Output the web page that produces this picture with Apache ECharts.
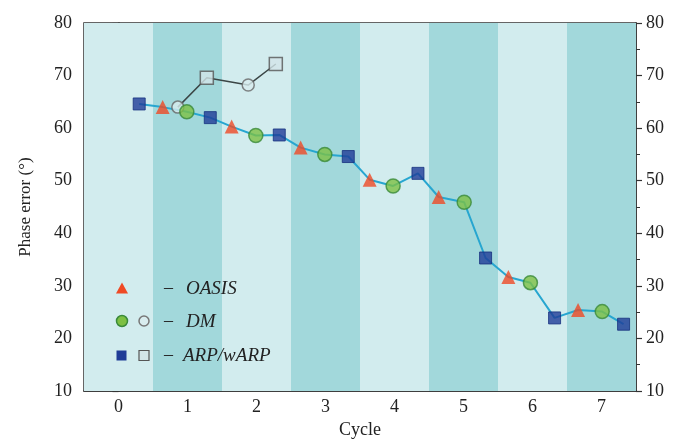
<!DOCTYPE html>
<html>
<head>
<meta charset="utf-8">
<script src="https://cdn.jsdelivr.net/npm/echarts@6/dist/echarts.min.js"></script>
<style>html,body{margin:0;padding:0;background:#fff}#c{width:675px;height:444px}</style>
</head>
<body>
<div id="c"></div>
<script>
// ---- data ----
const cycles = [0, 1, 2, 3, 4, 5, 6, 7];
const yTicks = [10, 20, 30, 40, 50, 60, 70, 80];
const arpX = [0.30, 1.33, 2.33, 3.33, 4.34, 5.32, 6.32, 7.32];
const arpY = [64.6, 62.0, 58.7, 54.6, 51.4, 35.3, 23.9, 22.7];
const oasisX = [0.64, 1.64, 2.64, 3.64, 4.64, 5.65, 6.66];
const oasisY = [64.0, 60.3, 56.3, 50.2, 46.9, 31.7, 25.4];
const dmX = [0.99, 1.99, 2.99, 3.98, 5.01, 5.97, 7.01];
const dmY = [63.1, 58.6, 55.0, 49.0, 45.9, 30.6, 25.1];
const wDmX = [0.86, 1.88];
const wDmY = [64.0, 68.2];
const wArpX = [1.28, 2.28];
const wArpY = [69.6, 72.2];

const pairs = (xs, ys) => xs.map((x, i) => [x, ys[i]]);
const mainLine = [...pairs(arpX, arpY), ...pairs(oasisX, oasisY), ...pairs(dmX, dmY)].sort((a, b) => a[0] - b[0]);
const greyLine = [...pairs(wDmX, wDmY), ...pairs(wArpX, wArpY)].sort((a, b) => a[0] - b[0]);

const lightBand = '#d2ecee', darkBand = '#a2d8db';
const bands = cycles.map(c => [{ xAxis: c - 0.5, itemStyle: { color: c % 2 ? darkBand : lightBand } }, { xAxis: c + 0.5 }]);

const FONT = '"Liberation Serif", "DejaVu Serif", serif';
const chart = echarts.init(document.getElementById('c'));
const yAxisBase = {
  type: 'value', min: yTicks[0], max: yTicks[yTicks.length - 1], interval: 10,
  axisLine: { show: true, lineStyle: { color: '#333', width: 1.5 } },
  axisTick: { show: true, length: 6, lineStyle: { color: '#333', width: 1.2 } },
  minorTick: { show: true, splitNumber: 2, length: 4, lineStyle: { color: '#333', width: 1 } },
  splitLine: { show: false },
  axisLabel: { fontFamily: FONT, fontSize: 18, color: '#222', margin: 10 }
};
chart.setOption({
  animation: false,
  grid: { left: 84, right: 39, top: 23, bottom: 51, show: true, borderColor: '#333', borderWidth: 1.5, backgroundColor: 'transparent' },
  xAxis: {
    type: 'value', min: -0.5, max: 7.5, interval: 0.5,
    name: 'Cycle', nameLocation: 'middle', nameGap: 30,
    nameTextStyle: { fontFamily: FONT, fontSize: 18, color: '#222' },
    axisLine: { show: true, lineStyle: { color: '#333', width: 1.5 } },
    axisTick: { show: false },
    splitLine: { show: false },
    axisLabel: { fontFamily: FONT, fontSize: 18, color: '#222', margin: 7,
      formatter: v => (cycles.includes(v) ? String(v) : '') }
  },
  yAxis: [
    Object.assign({}, yAxisBase, { position: 'left', name: 'Phase error (°)', nameLocation: 'middle', nameGap: 50,
      axisLabel: Object.assign({}, yAxisBase.axisLabel, { margin: 12 }),
      nameTextStyle: { fontFamily: FONT, fontSize: 17, color: '#222' } }),
    Object.assign({}, yAxisBase, { position: 'right' })
  ],
  series: [
    { type: 'line', data: [], z: 1, markArea: { silent: true, data: bands } },
    { type: 'line', data: mainLine, symbol: 'none', z: 2, lineStyle: { color: '#27a6d0', width: 2 } },
    { type: 'line', data: greyLine, symbol: 'none', z: 2, lineStyle: { color: '#3b4646', width: 1.5 } },
    { type: 'scatter', data: pairs(wDmX, wDmY), symbol: 'circle', symbolSize: 12, z: 3,
      itemStyle: { color: '#d8ecee', borderColor: '#666', borderWidth: 1.5 } },
    { type: 'scatter', data: pairs(wArpX, wArpY), symbol: 'rect', symbolSize: 13, z: 3,
      itemStyle: { color: '#d3e5e8', borderColor: '#555', borderWidth: 1.5 } },
    { type: 'scatter', data: pairs(arpX, arpY), symbol: 'rect', symbolSize: 12, z: 4,
      itemStyle: { color: '#1f3c97', borderColor: '#17317e', borderWidth: 1 } },
    { type: 'scatter', data: pairs(oasisX, oasisY), symbol: 'triangle', symbolSize: 14, z: 4,
      itemStyle: { color: '#ef4a25' } },
    { type: 'scatter', data: pairs(dmX, dmY), symbol: 'circle', symbolSize: 14, z: 4,
      itemStyle: { color: '#7dc043', borderColor: '#3a8a3a', borderWidth: 1.5 } }
  ],
  graphic: [
    { type: 'polygon', shape: { points: [[122, 282.5], [128, 293.5], [116, 293.5]] }, style: { fill: '#ef4a25' }, z: 10 },
    { type: 'circle', shape: { cx: 122, cy: 321, r: 5.5 }, style: { fill: '#7dc043', stroke: '#3a8a3a', lineWidth: 1.5 }, z: 10 },
    { type: 'circle', shape: { cx: 144, cy: 321, r: 5 }, style: { fill: '#d8ecee', stroke: '#777', lineWidth: 1.5 }, z: 10 },
    { type: 'rect', shape: { x: 116.5, y: 350.5, width: 10, height: 10 }, style: { fill: '#1f3c97' }, z: 10 },
    { type: 'rect', shape: { x: 139, y: 350.5, width: 10, height: 10 }, style: { fill: '#d3e5e8', stroke: '#555', lineWidth: 1.2 }, z: 10 },
    { type: 'text', x: 164, y: 288, style: { text: '–', font: '18px ' + FONT, fill: '#222', verticalAlign: 'middle' }, z: 10 },
    { type: 'text', x: 164, y: 321, style: { text: '–', font: '18px ' + FONT, fill: '#222', verticalAlign: 'middle' }, z: 10 },
    { type: 'text', x: 164, y: 355, style: { text: '–', font: '18px ' + FONT, fill: '#222', verticalAlign: 'middle' }, z: 10 },
    { type: 'text', x: 186, y: 289, style: { text: 'OASIS', font: 'italic 19px ' + FONT, fill: '#222', verticalAlign: 'middle' }, z: 10 },
    { type: 'text', x: 186, y: 322, style: { text: 'DM', font: 'italic 19px ' + FONT, fill: '#222', verticalAlign: 'middle' }, z: 10 },
    { type: 'text', x: 183, y: 356, style: { text: 'ARP/wARP', font: 'italic 19px ' + FONT, fill: '#222', verticalAlign: 'middle' }, z: 10 }
  ]
});
</script>
</body>
</html>
